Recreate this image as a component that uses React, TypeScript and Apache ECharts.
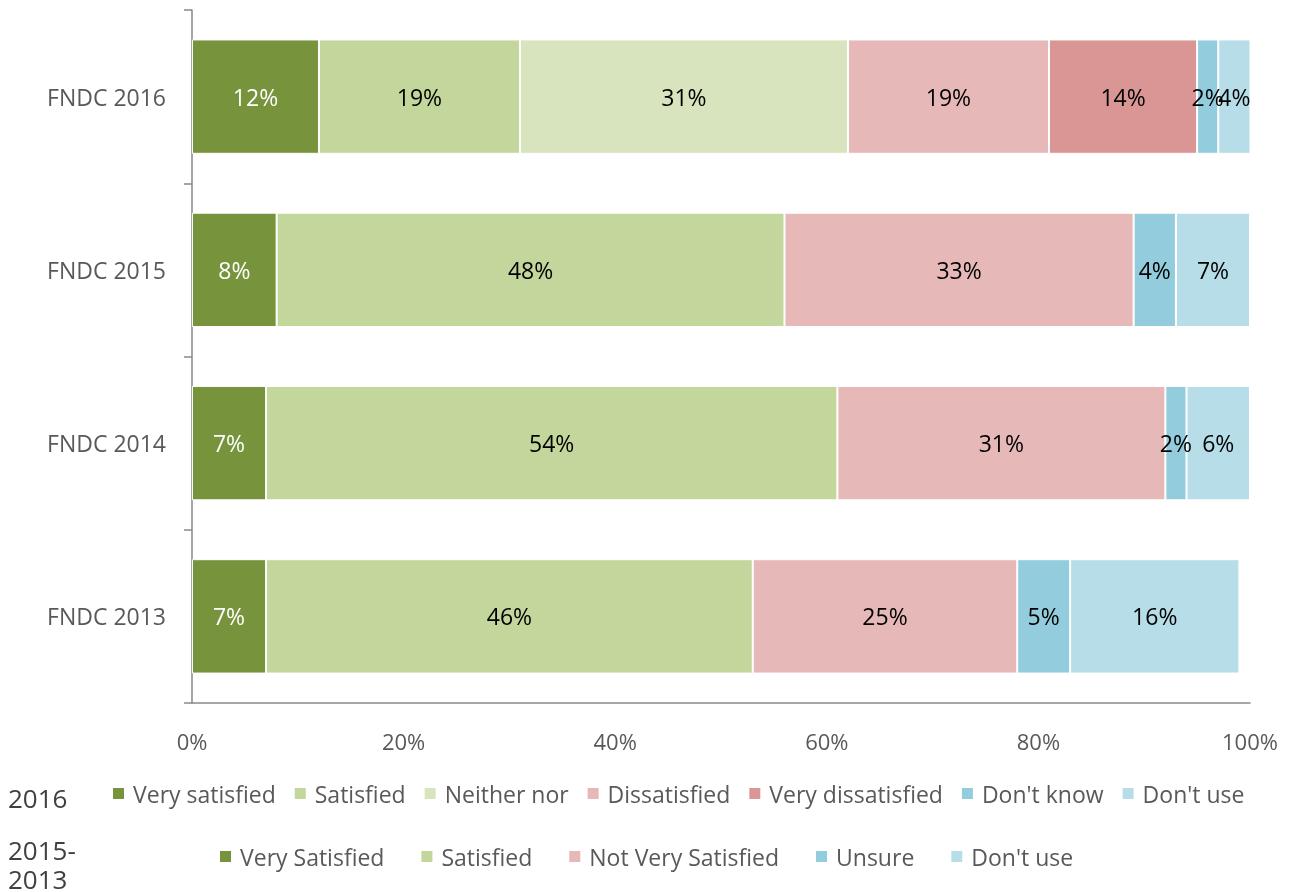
import React, { useEffect, useRef } from "react";
import * as echarts from "echarts";

const categories = ["FNDC 2013", "FNDC 2014", "FNDC 2015", "FNDC 2016"];

const names2016 = [
  "Very satisfied",
  "Satisfied",
  "Neither nor",
  "Dissatisfied",
  "Very dissatisfied",
  "Don't know",
  "Don't use",
];
const values2016 = [12, 19, 31, 19, 14, 2, 4];
const colors2016 = ["#77933C", "#C3D69B", "#D7E4BD", "#E6B9B8", "#D99694", "#93CDDD", "#B7DEE8"];

const namesOld = ["Very Satisfied", "Satisfied", "Not Very Satisfied", "Unsure", "Don't use"];
const colorsOld = ["#77933C", "#C3D69B", "#E6B9B8", "#93CDDD", "#B7DEE8"];
// order: 2013, 2014, 2015
const veryS = [7, 7, 8];
const satisfied = [46, 54, 48];
const notVery = [25, 31, 33];
const unsure = [5, 2, 4];
const dontUse = [16, 6, 7];
const valuesOld = [veryS, satisfied, notVery, unsure, dontUse];

const xTicks = { min: 0, max: 100, interval: 20 };

const FONT = "'Open Sans', sans-serif";

export default function App() {
  const ref = useRef<HTMLDivElement>(null);
  useEffect(() => {
    if (!ref.current) return;
    const chart = echarts.init(ref.current, null, { renderer: "svg" });

    const mkLabel = (i: number) => ({
      show: true,
      position: "inside",
      formatter: "{c}%",
      color: i === 0 ? "#ffffff" : "#000000",
      fontSize: 23,
      fontFamily: FONT,
    });

    const series: any[] = [];
    names2016.forEach((n, i) => {
      series.push({
        name: n,
        type: "bar",
        stack: "all",
        barWidth: "66%",
        itemStyle: { color: colors2016[i], borderColor: "#ffffff", borderWidth: 1 },
        label: mkLabel(i),
        data: ["-", "-", "-", values2016[i]],
      });
    });
    namesOld.forEach((n, i) => {
      series.push({
        name: n,
        type: "bar",
        stack: "all",
        barWidth: "66%",
        itemStyle: { color: colorsOld[i], borderColor: "#ffffff", borderWidth: 1 },
        label: mkLabel(i),
        data: [...valuesOld[i], "-"],
      });
    });

    const legendText = {
      fontSize: 23,
      fontFamily: FONT,
      color: "#595959",
      padding: [0, 0, 0, 3],
    };

    chart.setOption({
      animation: false,
      textStyle: { fontFamily: FONT },
      grid: { left: 192, right: 40, top: 10, bottom: 189, containLabel: false },
      xAxis: {
        type: "value",
        min: xTicks.min,
        max: xTicks.max,
        interval: xTicks.interval,
        axisLine: { show: true, lineStyle: { color: "#898989", width: 1.5 } },
        axisTick: { show: false },
        splitLine: { show: false },
        axisLabel: {
          formatter: "{value}%",
          color: "#595959",
          fontSize: 22,
          fontFamily: FONT,
          margin: 27,
        },
      },
      yAxis: {
        type: "category",
        data: categories,
        axisLine: { show: true, lineStyle: { color: "#898989", width: 1.5 } },
        axisTick: { show: true, length: 8, lineStyle: { color: "#898989", width: 1.5 } },
        axisLabel: { color: "#595959", fontSize: 23, fontFamily: FONT, margin: 26 },
      },
      legend: [
        {
          data: names2016,
          left: 111,
          top: 782,
          padding: 0,
          itemWidth: 13,
          itemHeight: 13,
          itemGap: 17,
          icon: "rect",
          selectedMode: false,
          textStyle: legendText,
        },
        {
          data: namesOld,
          left: 218,
          top: 845,
          padding: 0,
          itemWidth: 13,
          itemHeight: 13,
          itemGap: 35,
          icon: "rect",
          selectedMode: false,
          textStyle: legendText,
        },
      ],
      graphic: [
        {
          type: "text",
          left: 8,
          top: 784,
          style: { text: "2016", fontSize: 26, lineHeight: 28, fontFamily: FONT, fill: "#404040" },
        },
        {
          type: "text",
          left: 8,
          top: 836,
          style: { text: "2015-", fontSize: 26, lineHeight: 28, fontFamily: FONT, fill: "#404040" },
        },
        {
          type: "text",
          left: 8,
          top: 866,
          style: { text: "2013", fontSize: 26, lineHeight: 26, fontFamily: FONT, fill: "#404040" },
        },
      ],
      series,
    });

    return () => chart.dispose();
  }, []);

  return (
    <div
      ref={ref}
      style={{ position: "fixed", left: 0, top: 0, width: 1290, height: 892 }}
    />
  );
}
